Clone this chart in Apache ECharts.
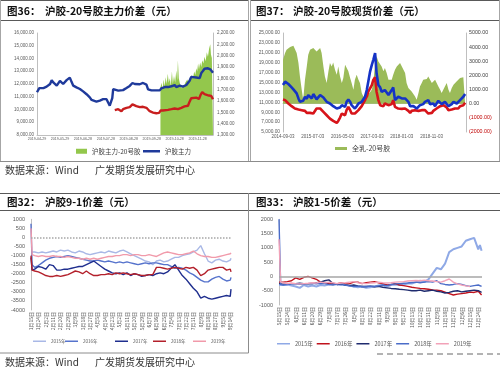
<!DOCTYPE html>
<html><head><meta charset="utf-8">
<script src="https://cdn.jsdelivr.net/npm/echarts@6.0.0/dist/echarts.min.js"></script>
<style>html,body{margin:0;padding:0;background:#fff;}#chart{width:500px;height:368px;}</style>
</head><body><div id="chart"></div>
<script>
// ---------- Chart 1 (图36) ----------
const c1Ticks = ['2019-04-29','2019-05-29','2019-06-28','2019-07-28','2019-08-28','2019-09-28','2019-10-28','2019-11-28'];
const c1BlueX = [0,0.10,0.28,0.42,0.50,0.57,0.64,0.71,0.78,0.86,0.93,1.00,1.07,1.14,1.22,1.29,1.36,1.43,1.51,1.58,1.72,1.87,2.01,2.16,2.30,2.38,2.45,2.59,2.67,2.74,2.88,2.96,3.03,3.10,3.17,3.25,3.28,3.32,3.39,3.54,3.61,3.75,3.83,3.90,4.04,4.16,4.26,4.33,4.48,4.62,4.77,4.84,4.99,5.20,5.35,5.42,5.49,5.57,5.71,5.86,6.00,6.07,6.22,6.36,6.51,6.58,6.65,6.72,6.80,6.94,7.09,7.16,7.23,7.30,7.45,7.55,7.60,7.67];
const c1Blue = [11350,11680,11680,11790,11680,12000,12300,12120,12250,11870,12000,12250,12250,12000,12120,12300,12400,12500,12150,11870,11740,11610,11420,11200,10950,10750,10700,10620,10750,10700,10810,10700,10810,10550,10300,10200,10900,11600,11520,11480,11620,11520,11620,11690,11850,12080,12000,12080,11980,12080,11950,11580,11500,11500,11500,11660,11610,11760,11760,11820,11920,11760,11870,11790,11920,12000,12250,12560,12430,12510,12460,12860,13020,13200,13230,13150,13120,12880];
const c1RedX = [3.39,3.46,3.54,3.61,3.68,3.75,3.83,3.90,3.97,4.04,4.16,4.23,4.33,4.48,4.62,4.77,4.84,4.91,5.06,5.20,5.32,5.39,5.49,5.57,5.71,5.86,6.00,6.14,6.29,6.43,6.58,6.65,6.72,6.80,6.94,7.06,7.13,7.20,7.30,7.38,7.49,7.59,7.67];
const c1Red = [1519,1513,1528,1516,1510,1528,1522,1540,1534,1546,1570,1558,1555,1546,1549,1540,1528,1510,1498,1492,1495,1516,1516,1528,1522,1528,1534,1528,1540,1552,1558,1594,1624,1618,1630,1618,1654,1678,1660,1669,1648,1645,1615];
const c1GreenX = [5.38,5.43,5.47,5.52,5.56,5.61,5.65,5.70,5.74,5.79,5.83,5.88,5.92,5.97,6.02,6.07,6.11,6.14,6.18,6.22,6.27,6.32,6.36,6.41,6.46,6.51,6.55,6.60,6.65,6.70,6.74,6.80,6.85,6.90,6.94,6.98,7.02,7.06,7.11,7.16,7.20,7.25,7.30,7.35,7.40,7.45,7.50,7.55,7.58,7.62,7.67];
const c1Green = [1720,1760,1700,1790,1730,1810,1750,1840,1760,1800,1730,1860,1750,1820,1760,1870,1780,1960,1800,1760,1730,1710,1740,1720,1760,1750,1790,1760,1800,1780,1830,1800,1860,1830,1890,1860,1930,1880,1940,1900,1960,1930,1990,1950,2030,1990,2060,2100,2010,1980,1990];

// ---------- Chart 2 (图37) ----------
const c2Ticks = ['2014-09-03','2015-07-03','2016-05-03','2017-03-03','2018-01-03','2018-11-03'];
const c2X = [0,0.07,0.12,0.18,0.24,0.29,0.35,0.40,0.46,0.52,0.57,0.63,0.68,0.74,0.80,0.85,0.91,0.97,1.02,1.08,1.13,1.19,1.25,1.30,1.36,1.41,1.47,1.53,1.58,1.64,1.69,1.75,1.81,1.86,1.92,1.98,2.03,2.09,2.14,2.20,2.26,2.31,2.37,2.42,2.48,2.54,2.59,2.65,2.70,2.76,2.82,2.87,2.93,2.99,3.04,3.10,3.15,3.21,3.27,3.32,3.38,3.43,3.49,3.55,3.60,3.66,3.71,3.77,3.83,3.88,3.94,4.00,4.05,4.11,4.16,4.22,4.28,4.33,4.39,4.44,4.50,4.56,4.61,4.67,4.72,4.78,4.84,4.89,4.95,5.01,5.06,5.12,5.17,5.23,5.29,5.34,5.40,5.45,5.51,5.57,5.62,5.68,5.74,5.79,5.85,5.90,5.96,6.02,6.07,6.13];
const c2Blue = [14490,15170,14830,14690,14290,14020,13610,13340,12800,11780,11100,11440,11300,12120,11710,12460,12120,11780,12660,12120,11580,11440,12460,12800,11980,11580,11100,11440,10760,10420,10220,9950,9740,10080,9950,10420,10760,10080,11100,11580,11100,10420,10080,9740,10220,10760,10630,11100,11440,12120,13470,15170,17200,18560,19580,20930,16860,14490,14020,13130,12800,13470,13130,12460,12800,13470,14020,11440,11580,12120,12250,11780,11980,11780,11440,11100,10220,10420,10220,9950,9740,10080,10420,10220,10630,11100,10760,11440,10630,10350,10760,10220,10760,11300,11100,10630,10420,11100,10630,10220,10220,10630,11100,11440,10760,11100,11440,11780,12120,12660];
const c2Red = [11580,11440,11100,10760,10420,10220,10080,9740,9950,9540,9270,9410,9070,9270,8860,8730,8860,8590,8730,9070,9740,10080,9740,9410,9070,8730,8390,8190,7710,7510,7240,7030,6830,7240,7910,8730,9070,8390,9410,10080,9410,8730,8390,8730,9070,9410,9740,10220,10760,11440,12120,13130,13810,14490,15510,16050,13130,11440,10420,10080,10220,10760,11100,10420,10080,10630,11440,10080,9740,9740,9540,9680,9410,9740,9540,9270,8860,9270,9070,9410,9540,9270,9070,9410,9740,9410,9070,8730,8390,8860,9270,9410,9740,10080,10220,9950,10420,10220,9950,9410,9070,9540,9410,9740,9410,9740,10220,10080,10420,10900];
const c2Green = [3110,3580,3820,3940,4010,4060,4100,4170,3580,2880,1930,990,280,1700,2640,3470,3820,3870,3940,3820,3700,3820,3940,3580,2640,1930,1460,2290,2880,2640,2920,2400,2050,2640,1930,1460,1810,2760,2640,2290,1810,1460,990,1700,2050,1700,1460,750,520,400,280,630,750,990,1460,2880,3350,2990,3110,2640,2290,2520,2170,1700,1580,1700,2050,2400,2640,2760,2880,2640,2520,2170,1460,1110,990,870,750,520,280,750,1220,1460,1700,1580,1740,1930,1700,1460,1340,1700,1580,1220,990,750,870,1220,1460,990,750,1110,1340,1460,1580,1700,1810,1810,1880,1930];

// ---------- Chart 3 (图32) ----------
const c3Ticks = ['1月15日','1月24日','2月2日','2月11日','2月20日','2月29日','3月9日','3月18日','3月27日','4月5日','4月14日','4月23日','5月2日','5月11日','5月20日','5月29日','6月7日','6月16日','6月25日','7月4日','7月13日','7月22日','7月31日','8月9日','8月18日','8月27日','9月5日','9月14日'];
const c3X = [0,0.15,0.5,1,1.5,2,2.5,3,3.5,4,4.5,5,5.5,6,6.5,7,7.5,8,8.5,9,9.5,10,10.5,11,11.5,12,12.5,13,13.5,14,14.5,15,15.5,16,16.5,17,17.5,18,18.5,19,19.5,20,20.5,21,21.5,22,22.5,23,23.5,24,24.5,25,25.5,26,26.5,27,27.1];
const c3Y2015 = [-800,-750,-800,-850,-800,-850,-800,-750,-800,-700,-750,-700,-800,-850,-750,-800,-900,-950,-900,-850,-800,-850,-750,-800,-850,-750,-700,-800,-900,-1000,-1100,-1200,-1300,-1350,-1500,-1300,-1250,-1350,-1300,-1200,-1100,-1100,-1000,-950,-900,-800,-700,-450,-900,-1300,-1400,-1250,-1200,-1300,-1350,-1250,-1150];
const c3Y2016 = [750,-1500,-1650,-1550,-1400,-1250,-1150,-1100,-1050,-1100,-1050,-1000,-1050,-1100,-1150,-1200,-1250,-1300,-1300,-1250,-1300,-1350,-1300,-1350,-1400,-1350,-1400,-1350,-1400,-1450,-1500,-1450,-1400,-1450,-1400,-1400,-1450,-1500,-1500,-1600,-1700,-1650,-1700,-1800,-1950,-2050,-2200,-2350,-2450,-2450,-2300,-2200,-2150,-2300,-2400,-2350,-2200];
const c3Y2017 = [-1100,-1800,-1750,-1600,-1650,-1750,-1500,-1550,-1800,-1800,-1750,-1750,-1700,-1650,-1600,-1600,-1500,-1400,-1300,-1450,-1600,-1750,-1850,-1950,-2000,-1950,-2050,-1950,-2100,-2000,-2050,-2150,-2100,-2050,-2100,-2000,-1950,-2000,-1900,-1700,-1500,-1800,-2100,-2300,-2550,-2800,-3000,-3350,-3250,-3350,-3400,-3350,-3300,-3250,-3200,-3250,-2850];
const c3Y2018 = [-1000,-1800,-1850,-1900,-2000,-2100,-2150,-2150,-2100,-2150,-2100,-2050,-1950,-1850,-1900,-2000,-1850,-2000,-2100,-2100,-2050,-2050,-2000,-2050,-1950,-2000,-1950,-2000,-2050,-2000,-2050,-2100,-2100,-2050,-2050,-1650,-1650,-1700,-1750,-1700,-1650,-1700,-1750,-1650,-1700,-1650,-1800,-2100,-2000,-1800,-1750,-1700,-1650,-1650,-1800,-1750,-1900];
const c3Y2019 = [500,-950,-1000,-1050,-1000,-1050,-1050,-1000,-1050,-1050,-1100,-1050,-1100,-1150,-1150,-1200,-1150,-1200,-1150,-1200,-1150,-1100,-1050,-1050,-1000,-1000,-950,-950,-1000,-950,-950,-1000,-1000,-950,-1000,-1050,-950,-850,-800,-850,-900,-950,-950,-900,-850,-750,-900,-1000,-1050,-1050,-1100,-1100,-1050,-1000,-950,-900,-850];

// ---------- Chart 4 (图33) ----------
const c4Ticks = ['5月15日','5月24日','6月2日','6月11日','6月20日','6月29日','7月8日','7月17日','7月26日','8月4日','8月13日','8月22日','8月31日','9月9日','9月18日','9月27日','10月13日','10月22日','10月31日','11月9日','11月18日','11月27日','12月6日','12月15日','12月24日'];
const c4X = [0,0.2,0.5,1,1.5,2,2.5,3,3.5,4,4.5,5,5.5,6,6.5,7,7.5,8,8.5,9,9.5,10,10.5,11,11.5,12,12.5,13,13.5,14,14.5,15,15.5,16,16.5,17,17.5,18,18.5,19,19.5,20,20.5,21,21.5,22,22.5,23,23.5,24,24.2,24.4];
const c4Y2015 = [-300,-300,-300,-280,-320,-350,-400,-300,-350,-320,-350,-300,-320,-280,-250,-280,-300,-300,-320,-350,-380,-350,-400,-380,-350,-320,-300,-350,-300,-280,-300,-280,-250,-250,-200,-150,-200,-100,100,300,250,450,850,950,1000,1050,1250,1300,1350,950,1100,900];
const c4Y2016 = [-200,-200,-200,-180,-150,-50,-100,-30,0,-50,-100,-200,-220,-250,-260,-250,-230,-260,-250,-200,-200,-250,-220,-200,-180,-220,-250,-300,-280,-250,-300,-320,-350,-380,-400,-420,-430,-450,-470,-480,-500,-550,-600,-650,-620,-600,-580,-550,-560,-520,-580,-650];
const c4Y2017 = [-250,-250,-270,-260,-250,-250,-240,-250,-260,-250,-220,-200,-150,-120,-250,-280,-260,-300,-320,-300,-330,-350,-350,-340,-360,-350,-380,-400,-420,-430,-450,-460,-480,-500,-500,-480,-520,-500,-480,-520,-540,-580,-560,-520,-500,-540,-520,-500,-480,-500,-540,-560];
const c4Y2018 = [2000,-280,-300,-280,-260,-250,-270,-260,-250,-240,-260,-240,-250,-280,-300,-270,-250,-300,-330,-350,-340,-360,-350,-340,-350,-330,-300,-320,-280,-260,-250,-240,-230,-210,-200,-220,-200,-180,-200,-150,-250,-280,-300,-280,-250,-280,-320,-350,-320,-300,-250,-350];
const c4Y2019 = [1300,-200,-220,-250,-230,-250,-260,-250,-240,-220,-230,-200,-220,-200,-220,-250,-230,-220,-200,-180,-220,-240,-250,-230,-220,-200,-220,-230,-220,-200,-190,-180,-160,-150,-140,-150,-130,-150,-160,-180,-200,-150,-90,-200,-260,-300,-330,-350,null,null,null,null];

// ---------- helpers ----------
const pairs = (xs, ys) => xs.map((x, i) => [x, ys[i]]);
const CJK = '"Noto Sans CJK SC", sans-serif';
const LAT = '"Liberation Sans", Arial, sans-serif';
const AX = '#BFBFBF';
const LBL = '#595959';
const fmtComma = v => v.toLocaleString('en-US', {minimumFractionDigits: 2, maximumFractionDigits: 2});
const fmtPlain = v => String(v);
const tickFmt = ticks => v => (Math.abs(v - Math.round(v)) < 1e-6 && ticks[Math.round(v)] !== undefined) ? ticks[Math.round(v)] : '';

const chart = echarts.init(document.getElementById('chart'), null, {renderer: 'canvas'});

const line = (x1, y1, x2, y2, stroke, w, dash) => ({
  type: 'line', silent: true, z: 100,
  shape: {x1, y1, x2, y2},
  style: {stroke, lineWidth: w || 1, lineDash: dash || null}
});
const txt = (x, y, text, font, fill) => ({
  type: 'text', silent: true, z: 100, x, y,
  style: {text, font, fill: fill || '#000', verticalAlign: 'middle', textVerticalAlign: 'middle'}
});

const yearNames = ['2015年','2016年','2017年','2018年','2019年'];
const c3Colors = ['#A9B8E6','#5673CC','#1F2E8E','#B3202B','#F19AAA'];
const c4Colors = ['#8FA9E6','#C0121C','#1F2B6E','#4A6CC8','#F2A2B8'];
const c3Data = [c3Y2015, c3Y2016, c3Y2017, c3Y2018, c3Y2019];
const c4Data = [c4Y2015, c4Y2016, c4Y2017, c4Y2018, c4Y2019];
const c3LegendLeft = [33, 65, 115, 153, 193];

const option = {
  animation: false,
  backgroundColor: '#fff',
  textStyle: {fontFamily: LAT},
  grid: [
    {left: 37, top: 33, width: 176, height: 102},
    {left: 283, top: 33, width: 183, height: 99},
    {left: 31, top: 219.3, width: 200, height: 90.7},
    {left: 279, top: 219.3, width: 203, height: 85.7}
  ],
  xAxis: [
    {gridIndex: 0, type: 'value', min: 0, max: 7.67, interval: 1,
     axisLine: {lineStyle: {color: AX}}, axisTick: {show: false}, splitLine: {show: false},
     axisLabel: {formatter: tickFmt(c1Ticks), fontSize: 3.6, color: LBL, margin: 2}},
    {gridIndex: 1, type: 'value', min: 0, max: 6.16, interval: 1,
     axisLine: {lineStyle: {color: AX}}, axisTick: {show: false}, splitLine: {show: false},
     axisLabel: {formatter: tickFmt(c2Ticks), fontSize: 4.5, color: LBL, margin: 2}},
    {gridIndex: 2, type: 'value', min: 0, max: 27.1, interval: 1,
     axisLine: {show: false}, axisTick: {show: false}, splitLine: {show: false},
     axisLabel: {formatter: tickFmt(c3Ticks), fontSize: 5, color: LBL, margin: 2, rotate: 90, fontFamily: CJK}},
    {gridIndex: 3, type: 'value', min: 0, max: 24.45, interval: 1,
     axisLine: {show: false}, axisTick: {show: false}, splitLine: {show: false},
     axisLabel: {formatter: tickFmt(c4Ticks), fontSize: 5, color: LBL, margin: 2, rotate: 90, fontFamily: CJK}}
  ],
  yAxis: [
    {gridIndex: 0, type: 'value', min: 8000, max: 16000, interval: 1000,
     axisLine: {show: true, lineStyle: {color: AX}}, axisTick: {show: false}, splitLine: {show: false},
     axisLabel: {formatter: fmtComma, fontSize: 4.5, color: LBL, margin: 3}},
    {gridIndex: 0, type: 'value', position: 'right', min: 1300, max: 2200, interval: 100,
     axisLine: {show: true, lineStyle: {color: AX}}, axisTick: {show: false}, splitLine: {show: false},
     axisLabel: {formatter: fmtComma, fontSize: 4.5, color: LBL, margin: 4}},
    {gridIndex: 1, type: 'value', min: 5000, max: 25000, interval: 2000,
     axisLine: {show: true, lineStyle: {color: AX}}, axisTick: {show: false}, splitLine: {show: false},
     axisLabel: {formatter: fmtComma, fontSize: 4.8, color: LBL, margin: 3}},
    {gridIndex: 1, type: 'value', position: 'right', min: -2000, max: 5000, interval: 1000,
     axisLine: {show: true, lineStyle: {color: AX}}, axisTick: {show: false}, splitLine: {show: false},
     axisLabel: {formatter: v => v < 0 ? '{n|(' + Math.abs(v).toFixed(2) + ')}' : v.toFixed(2),
                 rich: {n: {color: '#C00000', fontSize: 5.3, fontFamily: LAT}},
                 fontSize: 5.3, color: '#404040', margin: 3}},
    {gridIndex: 2, type: 'value', min: -4000, max: 1000, interval: 500,
     axisLine: {show: true, lineStyle: {color: AX}}, axisTick: {show: false}, splitLine: {show: false},
     axisLabel: {formatter: fmtPlain, fontSize: 5.5, color: LBL, margin: 6}},
    {gridIndex: 3, type: 'value', min: -1000, max: 2000, interval: 500,
     axisLine: {show: true, lineStyle: {color: AX}}, axisTick: {show: false}, splitLine: {show: false},
     axisLabel: {formatter: fmtPlain, fontSize: 5.5, color: LBL, margin: 6}}
  ],
  legend: [
    {data: [{name: '沪胶主力-20号胶', icon: 'rect'}], left: 76, top: 148, padding: 0, itemWidth: 11, itemHeight: 5,
     textStyle: {fontSize: 6.5, color: '#404040', fontFamily: CJK}, selectedMode: false},
    {data: [{name: '沪胶主力', icon: 'rect'}], left: 143, top: 148, padding: 0, itemWidth: 17, itemHeight: 2.5,
     textStyle: {fontSize: 6.5, color: '#404040', fontFamily: CJK}, selectedMode: false},
    {data: [{name: '全乳-20号胶', icon: 'rect'}], left: 335, top: 145, padding: 0, itemWidth: 12, itemHeight: 3,
     textStyle: {fontSize: 7, color: '#404040', fontFamily: CJK}, selectedMode: false}
  ].concat(yearNames.map((n, i) => ({
    data: [{name: n, icon: 'rect'}], left: c3LegendLeft[i], top: 339, padding: 0, itemWidth: 13, itemHeight: 1.5,
    textStyle: {fontSize: 4.5, color: LBL, fontFamily: CJK}, selectedMode: false
  }))).concat([{
    data: yearNames.map(n => ({name: n + ' ', icon: 'rect'})), formatter: n => n.trim(), left: 277, top: 341, padding: 0,
    itemWidth: 13, itemHeight: 1.5, itemGap: 4,
    textStyle: {fontSize: 5.5, color: LBL, fontFamily: CJK}, selectedMode: false
  }]),
  series: [
    {type: 'line', name: '沪胶主力-20号胶', xAxisIndex: 0, yAxisIndex: 1, data: pairs(c1GreenX, c1Green),
     symbol: 'none', lineStyle: {width: 0}, itemStyle: {color: '#93C74C'}, areaStyle: {color: '#93C74C', opacity: 1}, z: 1},
    {type: 'line', name: '沪胶主力', xAxisIndex: 0, yAxisIndex: 0, data: pairs(c1BlueX, c1Blue),
     symbol: 'none', lineStyle: {width: 2.4, color: '#1F3A9B'}, itemStyle: {color: '#1F3A9B'}, z: 3},
    {type: 'line', name: '20号胶', xAxisIndex: 0, yAxisIndex: 1, data: pairs(c1RedX, c1Red),
     symbol: 'none', lineStyle: {width: 2.4, color: '#C81E1E'}, itemStyle: {color: '#C81E1E'}, z: 3},

    {type: 'line', name: '全乳-20号胶', xAxisIndex: 1, yAxisIndex: 3, data: pairs(c2X, c2Green),
     symbol: 'none', lineStyle: {width: 0}, itemStyle: {color: '#9BBB59'}, areaStyle: {color: '#9BBB59', opacity: 1}, z: 1},
    {type: 'line', name: '20号胶现货', xAxisIndex: 1, yAxisIndex: 2, data: pairs(c2X, c2Red),
     symbol: 'none', lineStyle: {width: 2.6, color: '#D7141A'}, itemStyle: {color: '#D7141A'}, z: 3},
    {type: 'line', name: '沪胶现货', xAxisIndex: 1, yAxisIndex: 2, data: pairs(c2X, c2Blue),
     symbol: 'none', lineStyle: {width: 2.6, color: '#1533C6'}, itemStyle: {color: '#1533C6'}, z: 4}
  ].concat(yearNames.map((n, i) => ({
    type: 'line', name: n, xAxisIndex: 2, yAxisIndex: 4, data: pairs(c3X, c3Data[i]),
    symbol: 'none', lineStyle: {width: 1.4, color: c3Colors[i]}, itemStyle: {color: c3Colors[i]}, z: 3,
    markLine: i === 0 ? {silent: true, symbol: 'none', label: {show: false},
      lineStyle: {type: 'dotted', color: '#A6A6A6', width: 1.5}, data: [{yAxis: 0}]} : undefined
  }))).concat(yearNames.map((n, i) => ({
    type: 'line', name: n + ' ', xAxisIndex: 3, yAxisIndex: 5, data: pairs(c4X, c4Data[i]),
    symbol: 'none', lineStyle: {width: i === 0 ? 2 : 1.4, color: c4Colors[i]}, itemStyle: {color: c4Colors[i]}, z: 3,
    markLine: i === 0 ? {silent: true, symbol: 'none', label: {show: false},
      lineStyle: {type: 'solid', color: '#A6A6A6', width: 1.5}, data: [{yAxis: 0}]} : undefined
  }))),
  graphic: [
    line(0, 0.5, 248, 0.5, '#595959', 1),
    line(250, 0.5, 499.5, 0.5, '#595959', 1),
    line(0, 20.5, 248, 20.5, '#595959', 1),
    line(250, 20.5, 499.5, 20.5, '#595959', 1),
    line(0.5, 0, 0.5, 161, '#A6A6A6', 1),
    line(248.5, 0, 248.5, 161, '#A6A6A6', 1),
    line(250.5, 0, 250.5, 161, '#A6A6A6', 1),
    line(499.5, 0, 499.5, 161, '#A6A6A6', 1),
    line(0, 161.5, 500, 161.5, '#8C8C8C', 1),
    line(0, 193.5, 500, 193.5, '#595959', 1),
    line(0, 210.5, 500, 210.5, '#595959', 1),
    line(248.5, 193, 248.5, 353, '#8C8C8C', 1),
    line(0, 353, 248.5, 353, '#8C8C8C', 1),
    line(377, 354, 500, 354, '#9A9A9A', 1.5, [6, 4]),
    txt(7, 11, '图36：', 'bold 10.5px ' + CJK, '#111'),
    txt(45, 11, '沪胶-20号胶主力价差（元）', 'bold 10.5px ' + CJK, '#111'),
    txt(256, 11, '图37：', 'bold 10.5px ' + CJK, '#111'),
    txt(293, 11, '沪胶-20号胶现货价差（元）', 'bold 10.5px ' + CJK, '#111'),
    txt(7, 202, '图32：', 'bold 10.5px ' + CJK, '#111'),
    txt(45, 202, '沪胶9-1价差（元）', 'bold 10.5px ' + CJK, '#111'),
    txt(256, 202, '图33：', 'bold 10.5px ' + CJK, '#111'),
    txt(293, 202, '沪胶1-5价差（元）', 'bold 10.5px ' + CJK, '#111'),
    txt(5, 170.5, '数据来源：Wind', '10px ' + CJK, '#333'),
    txt(95, 170.5, '广发期货发展研究中心', '10px ' + CJK, '#333'),
    txt(5, 362.5, '数据来源：Wind', '10px ' + CJK, '#333'),
    txt(95, 362.5, '广发期货发展研究中心', '10px ' + CJK, '#333')
  ]
};
chart.setOption(option);
</script></body></html>
